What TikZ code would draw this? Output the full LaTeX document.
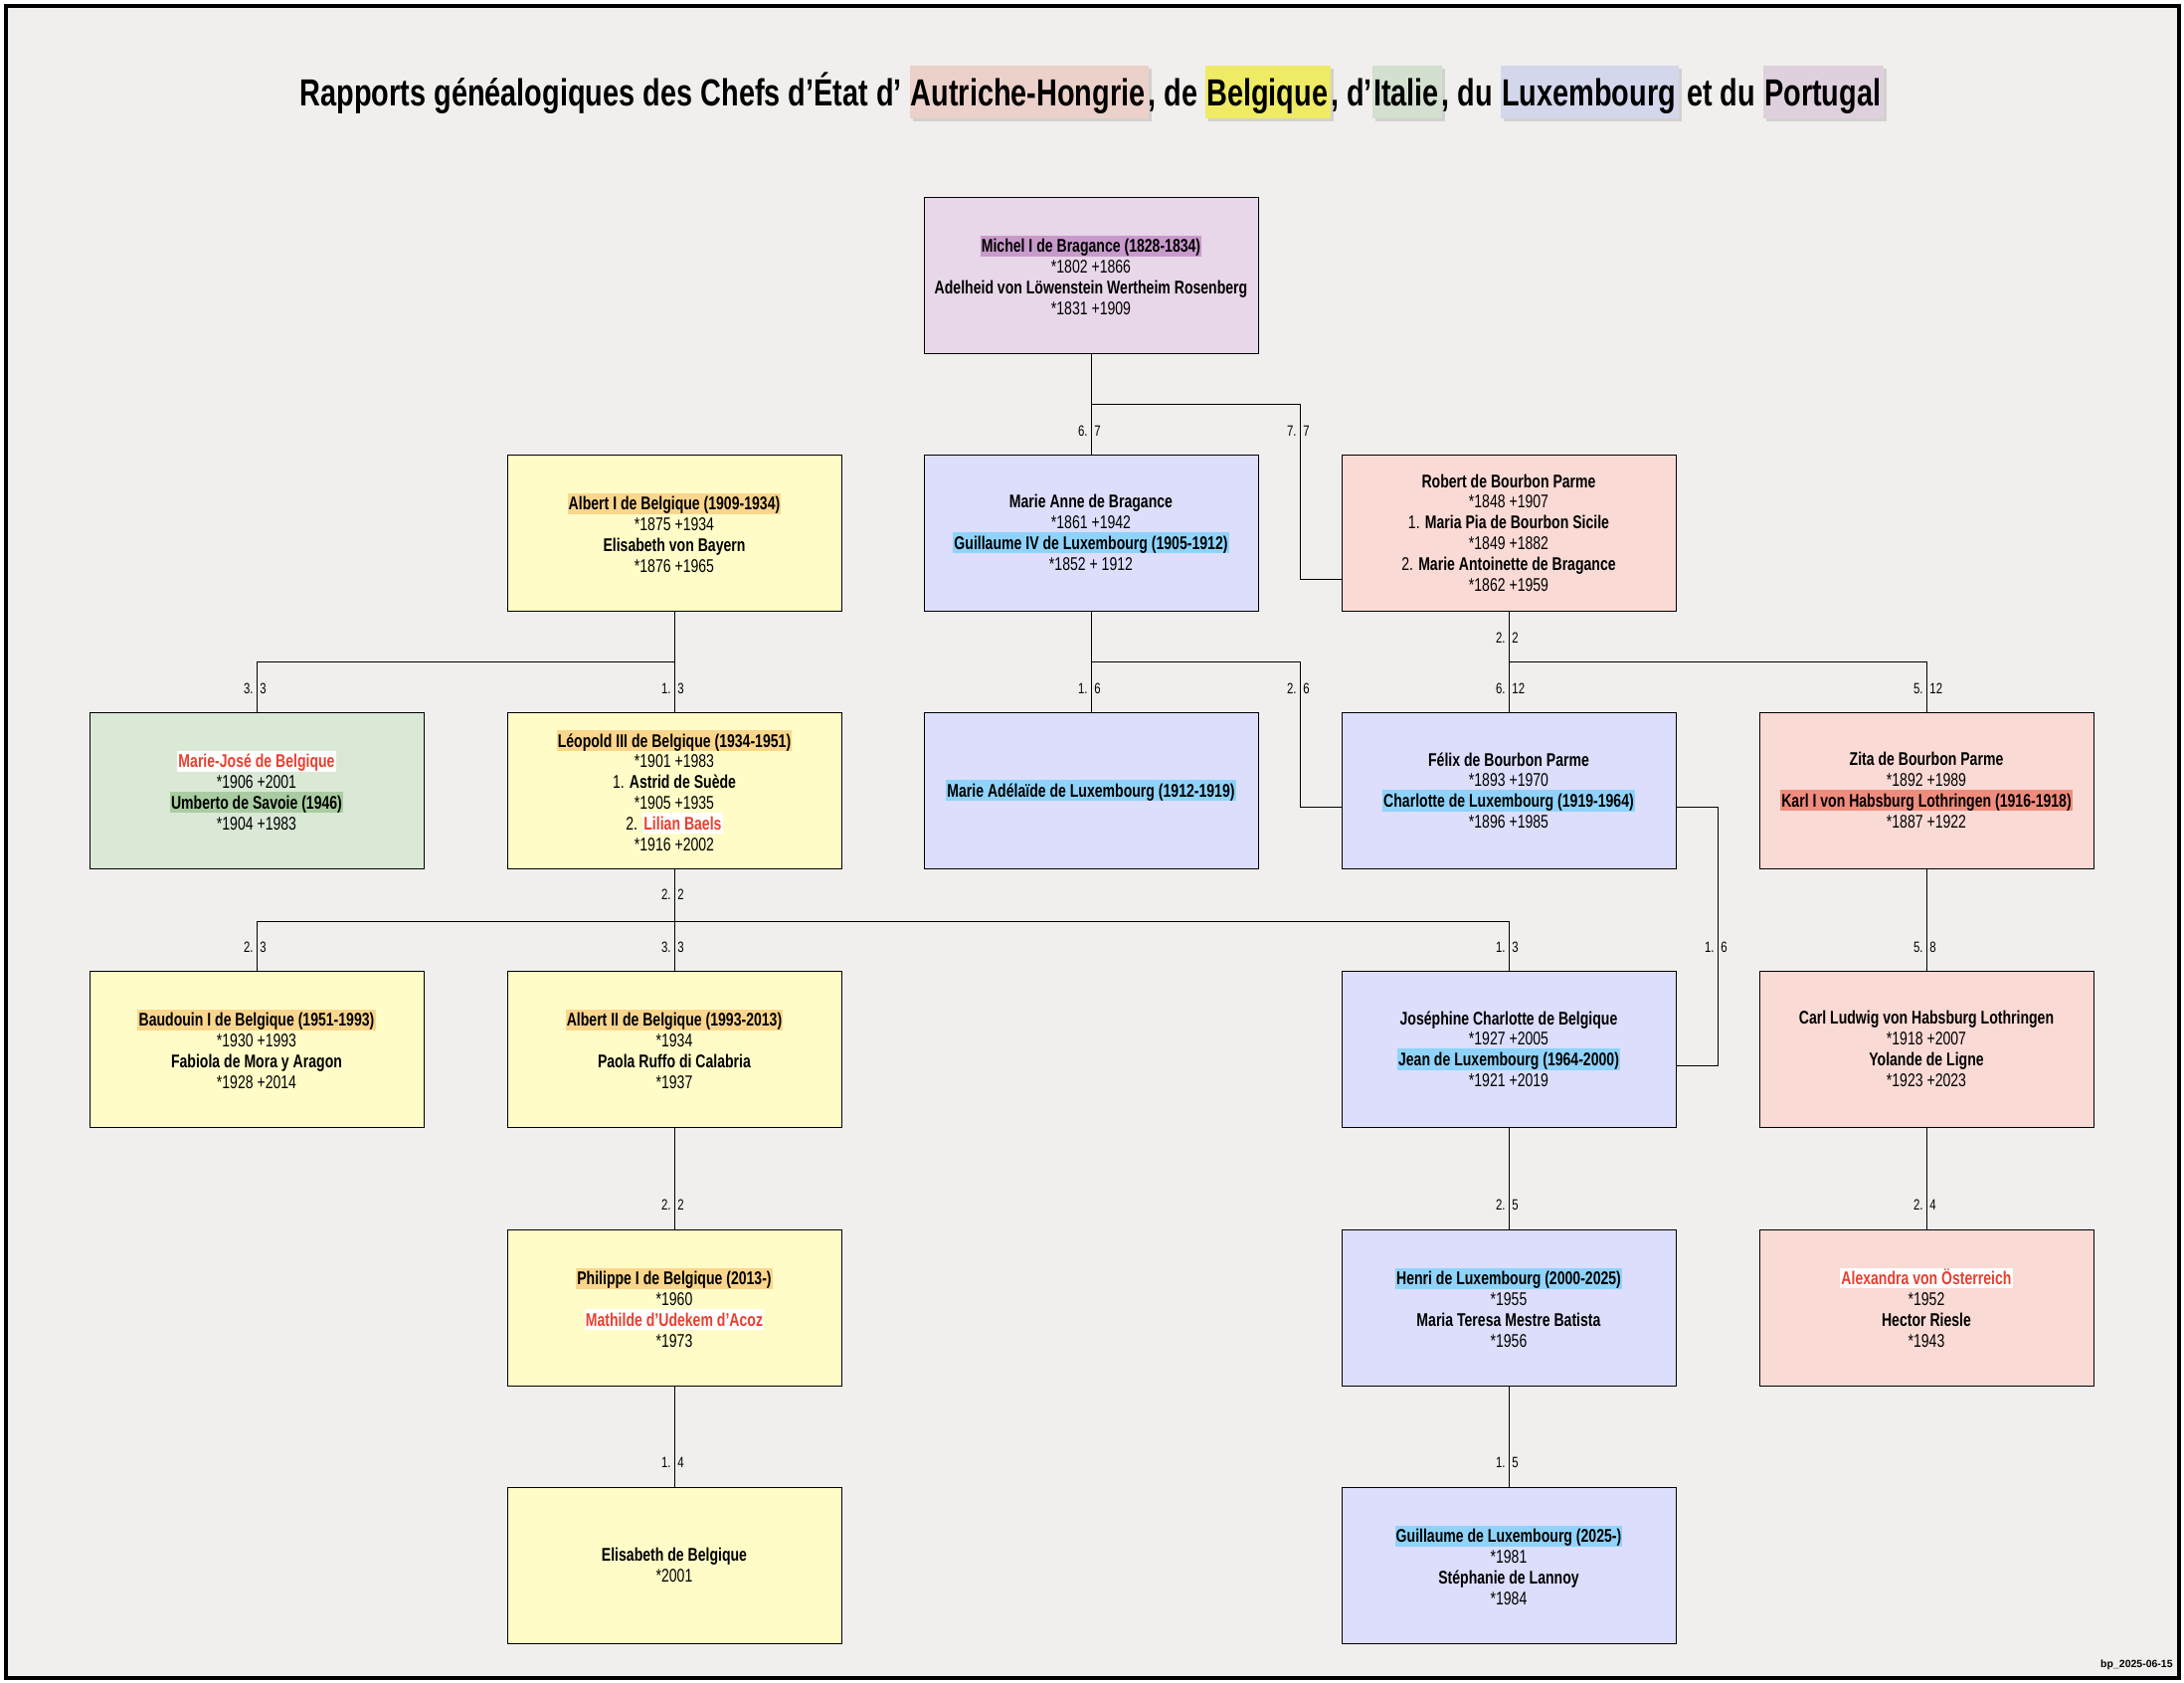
\documentclass[tikz,border=0pt]{standalone}
\usepackage{fontspec}
\setmainfont{Liberation Sans}[FakeStretch=0.76]
\newfontfamily\footfont{Liberation Sans}
\usetikzlibrary{calc}
\definecolor{bgcol}{HTML}{F0EFED}
\definecolor{fPT}{HTML}{E8D6E9}
\definecolor{fBE}{HTML}{FFFCC7}
\definecolor{fLU}{HTML}{DCDEFC}
\definecolor{fAT}{HTML}{FADAD5}
\definecolor{fIT}{HTML}{DAE8D6}
\definecolor{hPT}{HTML}{C89ACB}
\definecolor{hBE}{HTML}{FAD68C}
\definecolor{hLU}{HTML}{8FD3FA}
\definecolor{hIT}{HTML}{AACCA2}
\definecolor{hAT}{HTML}{F08C7D}
\definecolor{redn}{HTML}{E8402F}
\definecolor{tAT}{HTML}{EBD1CA}
\definecolor{tBE}{HTML}{EFEB64}
\definecolor{tIT}{HTML}{D3DFCF}
\definecolor{tLU}{HTML}{D4D7EC}
\definecolor{tPT}{HTML}{DFD0DD}
\definecolor{shad}{HTML}{D2D1CF}
\setlength{\lineskiplimit}{-30pt}
\newcommand\hl[2]{{\setlength{\fboxsep}{0pt}\colorbox{#1}{\kern0.6pt\rule[-1.7pt]{0pt}{10.4pt}#2\kern0.6pt}}}
\newcommand\rn[1]{\hl{white}{\textcolor{redn}{\textbf{#1}}}}
\newsavebox\tbox
\newcommand\thl[2]{\sbox\tbox{#2}\begingroup\setlength{\fboxsep}{0pt}%
\rlap{\kern1.5pt\textcolor{shad}{\rule[-8pt]{\dimexpr\wd\tbox+2pt\relax}{26.5pt}}}%
\colorbox{#1}{\kern0.5pt\rule[-6.5pt]{0pt}{26.5pt}\usebox\tbox\kern1.5pt}\endgroup}
\newcommand\lab[5]{%
\node[labl,anchor=east] (#1a) at (#2-3,#3) {#4.};
\node[labl,anchor=west] (#1b) at (#2+3,#3) {#5};}
\begin{document}
\begin{tikzpicture}[x=0.5pt,y=-0.5pt,
  pbox/.style={draw=black, line width=0.5pt, minimum width=168pt, minimum height=78.5pt,
    inner sep=0pt, align=center, font=\fontsize{9.25}{10.4}\selectfont},
  conn/.style={draw=black, line width=0.5pt},
  labl/.style={inner sep=0pt, font=\fontsize{7.5}{9}\selectfont}]
\useasboundingbox (0,0) rectangle (2196,1692);
\fill[white] (0,0) rectangle (2196,1692);
\draw[line width=2pt, fill=bgcol] (5.5,5.5) rectangle (2190.5,1686.5);

\node[anchor=base, inner sep=0pt, font=\bfseries\fontsize{19}{22}\selectfont] (title) at (1098,106)
 {Rapports généalogiques des Chefs d’État d’ \thl{tAT}{Autriche-Hongrie}, de \thl{tBE}{Belgique}, d’\thl{tIT}{Italie}, du \thl{tLU}{Luxembourg} et du \thl{tPT}{Portugal}};

% row 1
\node[pbox, fill=fPT] (michel) at (1097,276.5)
 {\hl{hPT}{\textbf{Michel I de Bragance (1828-1834)}}\\*1802 +1866\\\textbf{Adelheid von Löwenstein Wertheim Rosenberg}\\*1831 +1909};
% row 2
\node[pbox, fill=fBE] (albert1) at (678,535.5)
 {\hl{hBE}{\textbf{Albert I de Belgique (1909-1934)}}\\*1875 +1934\\\textbf{Elisabeth von Bayern}\\*1876 +1965};
\node[pbox, fill=fLU] (marieanne) at (1097,535.5)
 {\textbf{Marie Anne de Bragance}\\*1861 +1942\\\hl{hLU}{\textbf{Guillaume IV de Luxembourg (1905-1912)}}\\*1852 + 1912};
\node[pbox, fill=fAT] (robert) at (1517,535.5)
 {\textbf{Robert de Bourbon Parme}\\*1848 +1907\\1. \textbf{Maria Pia de Bourbon Sicile}\\*1849 +1882\\2. \textbf{Marie Antoinette de Bragance}\\*1862 +1959};
% row 3
\node[pbox, fill=fIT] (mariejose) at (258,794.5)
 {\rn{Marie-José de Belgique}\\*1906 +2001\\\hl{hIT}{\textbf{Umberto de Savoie (1946)}}\\*1904 +1983};
\node[pbox, fill=fBE] (leopold) at (678,794.5)
 {\hl{hBE}{\textbf{Léopold III de Belgique (1934-1951)}}\\*1901 +1983\\1. \textbf{Astrid de Suède}\\*1905 +1935\\2. \rn{Lilian Baels}\\*1916 +2002};
\node[pbox, fill=fLU] (marieadelaide) at (1097,794.5)
 {\hl{hLU}{\textbf{Marie Adélaïde de Luxembourg (1912-1919)}}};
\node[pbox, fill=fLU] (felix) at (1517,794.5)
 {\textbf{Félix de Bourbon Parme}\\*1893 +1970\\\hl{hLU}{\textbf{Charlotte de Luxembourg (1919-1964)}}\\*1896 +1985};
\node[pbox, fill=fAT] (zita) at (1937,794.5)
 {\textbf{Zita de Bourbon Parme}\\*1892 +1989\\\hl{hAT}{\textbf{Karl I von Habsburg Lothringen (1916-1918)}}\\*1887 +1922};
% row 4
\node[pbox, fill=fBE] (baudouin) at (258,1054.5)
 {\hl{hBE}{\textbf{Baudouin I de Belgique (1951-1993)}}\\*1930 +1993\\\textbf{Fabiola de Mora y Aragon}\\*1928 +2014};
\node[pbox, fill=fBE] (albert2) at (678,1054.5)
 {\hl{hBE}{\textbf{Albert II de Belgique (1993-2013)}}\\*1934\\\textbf{Paola Ruffo di Calabria}\\*1937};
\node[pbox, fill=fLU] (josephine) at (1517,1054.5)
 {\textbf{Joséphine Charlotte de Belgique}\\*1927 +2005\\\hl{hLU}{\textbf{Jean de Luxembourg (1964-2000)}}\\*1921 +2019};
\node[pbox, fill=fAT] (carl) at (1937,1054.5)
 {\textbf{Carl Ludwig von Habsburg Lothringen}\\*1918 +2007\\\textbf{Yolande de Ligne}\\*1923 +2023};
% row 5
\node[pbox, fill=fBE] (philippe) at (678,1314.5)
 {\hl{hBE}{\textbf{Philippe I de Belgique (2013-)}}\\*1960\\\rn{Mathilde d’Udekem d’Acoz}\\*1973};
\node[pbox, fill=fLU] (henri) at (1517,1314.5)
 {\hl{hLU}{\textbf{Henri de Luxembourg (2000-2025)}}\\*1955\\\textbf{Maria Teresa Mestre Batista}\\*1956};
\node[pbox, fill=fAT] (alexandra) at (1937,1314.5)
 {\rn{Alexandra von Österreich}\\*1952\\\textbf{Hector Riesle}\\*1943};
% row 6
\node[pbox, fill=fBE] (elisabeth) at (678,1573.5)
 {\textbf{Elisabeth de Belgique}\\*2001};
\node[pbox, fill=fLU] (guillaume) at (1517,1573.5)
 {\hl{hLU}{\textbf{Guillaume de Luxembourg (2025-)}}\\*1981\\\textbf{Stéphanie de Lannoy}\\*1984};

% junction coordinates
\coordinate (j1) at (1307,406);
\coordinate (b2) at (678,665);
\coordinate (b3) at (1097,665);
\coordinate (j2) at (1307,665);
\coordinate (b4) at (1517,665);
\coordinate (b5) at (678,926);
\coordinate (j3) at (1727,811);

% connectors
\draw[conn] (michel.south) -- (marieanne.north);
\draw[conn] (michel.south) |- (j1) |- ([yshift=-23.25pt]robert.west);
\draw[conn] (albert1.south) -- (leopold.north);
\draw[conn] (b2) -| (mariejose.north);
\draw[conn] (marieanne.south) -- (marieadelaide.north);
\draw[conn] (b3) -- (j2) |- ([yshift=-8.25pt]felix.west);
\draw[conn] (robert.south) -- (felix.north);
\draw[conn] (b4) -| (zita.north);
\draw[conn] (leopold.south) -- (albert2.north);
\draw[conn] (b5) -| (baudouin.north);
\draw[conn] (b5) -| (josephine.north);
\draw[conn] ([yshift=-8.25pt]felix.east) -- (j3) |- ([yshift=-8.25pt]josephine.east);
\draw[conn] (zita.south) -- (carl.north);
\draw[conn] (albert2.south) -- (philippe.north);
\draw[conn] (josephine.south) -- (henri.north);
\draw[conn] (carl.south) -- (alexandra.north);
\draw[conn] (philippe.south) -- (elisabeth.north);
\draw[conn] (henri.south) -- (guillaume.north);

% labels
\lab{la}{1097}{433}{6}{7}
\lab{lb}{1307}{433}{7}{7}
\lab{lc}{258}{692}{3}{3}
\lab{ld}{678}{692}{1}{3}
\lab{le}{1097}{692}{1}{6}
\lab{lf}{1307}{692}{2}{6}
\lab{lg}{1517}{692}{6}{12}
\lab{lh}{1937}{692}{5}{12}
\lab{li}{1517}{641}{2}{2}
\lab{lj}{678}{899}{2}{2}
\lab{lk}{258}{952}{2}{3}
\lab{ll}{678}{952}{3}{3}
\lab{lm}{1517}{952}{1}{3}
\lab{ln}{1727}{952}{1}{6}
\lab{lo}{1937}{952}{5}{8}
\lab{lp}{678}{1211}{2}{2}
\lab{lq}{1517}{1211}{2}{5}
\lab{lr}{1937}{1211}{2}{4}
\lab{ls}{678}{1470}{1}{4}
\lab{lt}{1517}{1470}{1}{5}

\node[anchor=base east, inner sep=0pt, font=\footfont\bfseries\fontsize{5.25}{6}\selectfont] (foot) at (2185,1676) {bp\_2025-06-15};
\end{tikzpicture}
\end{document}
